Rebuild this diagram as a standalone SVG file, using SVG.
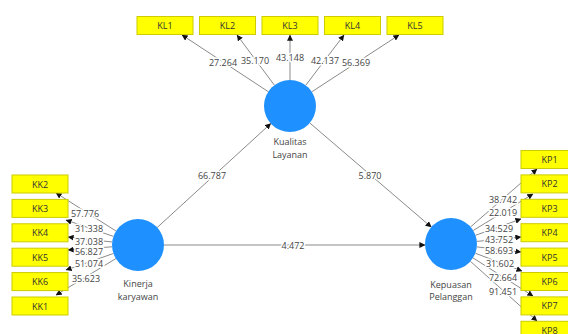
<svg xmlns="http://www.w3.org/2000/svg" width="568" height="334" viewBox="0 0 568 334">
<defs>
<marker id="ah" viewBox="0 0 8 8" refX="7.5" refY="4" markerWidth="6" markerHeight="6" markerUnits="userSpaceOnUse" orient="auto">
<path d="M0,0 L8,4 L0,8 z" fill="#111"/>
</marker>
<style>
.box{fill:#ffff00;stroke:#cccc00;stroke-width:1}
.bt{font-family:"Open Sans","Noto Sans",sans-serif;font-size:9px;fill:#333;text-anchor:middle;dominant-baseline:central}
.lv{fill:#1e90ff}
.lt{font-family:"Open Sans","Noto Sans",sans-serif;font-size:9px;fill:#444;text-anchor:middle}
.ln{stroke:#8a8a8a;stroke-width:1;fill:none;marker-end:url(#ah)}
.lb{font-family:"Open Sans","Noto Sans",sans-serif;font-size:9px;fill:#444;text-anchor:middle;dominant-baseline:central;stroke:#fff;stroke-width:3;paint-order:stroke;stroke-linejoin:round}
</style>
</defs>
<rect width="568" height="334" fill="#fff"/>
<g id="connectors">
<line class="ln" x1="268.3" y1="91.7" x2="182" y2="35"/>
<line class="ln" x1="274.4" y1="85.2" x2="237" y2="35"/>
<line class="ln" x1="290" y1="80" x2="290" y2="35"/>
<line class="ln" x1="305.7" y1="85.3" x2="344" y2="35"/>
<line class="ln" x1="311.8" y1="91.8" x2="399" y2="35"/>
<line class="ln" x1="116" y1="231" x2="56" y2="193"/>
<line class="ln" x1="113.4" y1="236.4" x2="66" y2="220"/>
<line class="ln" x1="112.2" y1="242" x2="68" y2="237"/>
<line class="ln" x1="112" y1="246.8" x2="68" y2="250"/>
<line class="ln" x1="113.4" y1="253.5" x2="66" y2="270"/>
<line class="ln" x1="116" y1="258.5" x2="56" y2="295"/>
<line class="ln" x1="470.6" y1="226.9" x2="537" y2="169"/>
<line class="ln" x1="473.2" y1="230.5" x2="533" y2="194"/>
<line class="ln" x1="475.5" y1="235.3" x2="521" y2="219"/>
<line class="ln" x1="476.9" y1="241.4" x2="521" y2="237"/>
<line class="ln" x1="476.8" y1="246.9" x2="521" y2="252"/>
<line class="ln" x1="475.3" y1="253.2" x2="522" y2="271"/>
<line class="ln" x1="473" y1="257.9" x2="533" y2="296"/>
<line class="ln" x1="470.4" y1="261.3" x2="537" y2="321"/>
<line class="ln" x1="157.2" y1="227.5" x2="270.8" y2="123.5"/>
<line class="ln" x1="309.7" y1="122.9" x2="431.3" y2="227.1"/>
<line class="ln" x1="164" y1="245" x2="425" y2="245"/>
<text class="lb" x="223" y="62">27.264</text>
<text class="lb" x="255" y="60">35.170</text>
<text class="lb" x="290" y="57">43.148</text>
<text class="lb" x="325" y="60">42.137</text>
<text class="lb" x="356" y="62">56.369</text>
<text class="lb" x="85" y="213">57.776</text>
<text class="lb" x="89" y="228">31.338</text>
<text class="lb" x="89" y="241">37.038</text>
<text class="lb" x="89" y="251">56.827</text>
<text class="lb" x="89" y="263">51.074</text>
<text class="lb" x="86" y="278">35.623</text>
<text class="lb" x="503" y="199">38.742</text>
<text class="lb" x="503" y="212">22.019</text>
<text class="lb" x="499" y="228">34.529</text>
<text class="lb" x="499" y="239">43.752</text>
<text class="lb" x="499" y="250">58.693</text>
<text class="lb" x="500" y="263">31.602</text>
<text class="lb" x="503" y="277">72.664</text>
<text class="lb" x="503" y="291">91.451</text>
<text class="lb" x="212" y="175">66.787</text>
<text class="lb" x="370" y="175">5.870</text>
<text class="lb" x="293" y="245">4.472</text>
</g>
<g id="KualitasLayanan">
<circle class="lv" cx="290" cy="106" r="26"/>
<text class="lt" x="290" y="145">Kualitas</text>
<text class="lt" x="290" y="158">Layanan</text>
</g>
<g id="KinerjaKaryawan">
<circle class="lv" cx="138" cy="245" r="26"/>
<text class="lt" x="138" y="287">Kinerja</text>
<text class="lt" x="138" y="300">karyawan</text>
</g>
<g id="KepuasanPelanggan">
<circle class="lv" cx="451" cy="244" r="26"/>
<text class="lt" x="451" y="288">Kepuasan</text>
<text class="lt" x="451" y="300">Pelanggan</text>
</g>
<g id="KL1"><rect class="box" x="137" y="16.5" width="56" height="18"/><text class="bt" x="165" y="25.5">KL1</text></g>
<g id="KL2"><rect class="box" x="199.5" y="16.5" width="56" height="18"/><text class="bt" x="227.5" y="25.5">KL2</text></g>
<g id="KL3"><rect class="box" x="262" y="16.5" width="56" height="18"/><text class="bt" x="290" y="25.5">KL3</text></g>
<g id="KL4"><rect class="box" x="324.5" y="16.5" width="56" height="18"/><text class="bt" x="352.5" y="25.5">KL4</text></g>
<g id="KL5"><rect class="box" x="387" y="16.5" width="56" height="18"/><text class="bt" x="415" y="25.5">KL5</text></g>
<g id="KK2"><rect class="box" x="12" y="175" width="56" height="18"/><text class="bt" x="40" y="184">KK2</text></g>
<g id="KK3"><rect class="box" x="12" y="199.4" width="56" height="18"/><text class="bt" x="40" y="208.4">KK3</text></g>
<g id="KK4"><rect class="box" x="12" y="223.8" width="56" height="18"/><text class="bt" x="40" y="232.8">KK4</text></g>
<g id="KK5"><rect class="box" x="12" y="248.2" width="56" height="18"/><text class="bt" x="40" y="257.2">KK5</text></g>
<g id="KK6"><rect class="box" x="12" y="272.6" width="56" height="18"/><text class="bt" x="40" y="281.6">KK6</text></g>
<g id="KK1"><rect class="box" x="12" y="297" width="56" height="18"/><text class="bt" x="40" y="306">KK1</text></g>
<g id="KP1"><rect class="box" x="521" y="150.5" width="57" height="18"/><text class="bt" x="549.5" y="159.5">KP1</text></g>
<g id="KP2"><rect class="box" x="521" y="174.9" width="57" height="18"/><text class="bt" x="549.5" y="183.9">KP2</text></g>
<g id="KP3"><rect class="box" x="521" y="199.3" width="57" height="18"/><text class="bt" x="549.5" y="208.3">KP3</text></g>
<g id="KP4"><rect class="box" x="521" y="223.7" width="57" height="18"/><text class="bt" x="549.5" y="232.7">KP4</text></g>
<g id="KP5"><rect class="box" x="521" y="248.1" width="57" height="18"/><text class="bt" x="549.5" y="257.1">KP5</text></g>
<g id="KP6"><rect class="box" x="521" y="272.5" width="57" height="18"/><text class="bt" x="549.5" y="281.5">KP6</text></g>
<g id="KP7"><rect class="box" x="521" y="296.9" width="57" height="18"/><text class="bt" x="549.5" y="305.9">KP7</text></g>
<g id="KP8"><rect class="box" x="521" y="321.3" width="57" height="18"/><text class="bt" x="549.5" y="330.3">KP8</text></g>
</svg>
